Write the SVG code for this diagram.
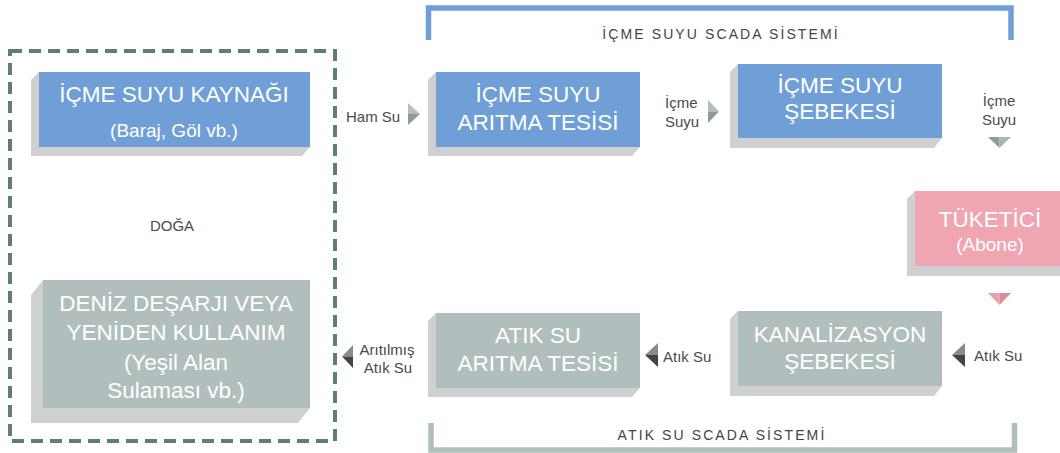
<svg xmlns="http://www.w3.org/2000/svg" width="1060" height="453" viewBox="0 0 1060 453">
<style>
.shadow{fill:#cfd0d2}
.blue{fill:#6f9fd6}
.gray{fill:#b0bfbd}
.pink{fill:#efa6b2}
.t{font-family:"Liberation Sans",Arial,sans-serif;fill:#fff;text-anchor:middle;font-size:22.5px}
.s{font-family:"Liberation Sans",Arial,sans-serif;fill:#fff;text-anchor:middle;font-size:19px}
.lbl{font-family:"Liberation Sans",Arial,sans-serif;fill:#4a4a4a;font-size:15px}
.sc{font-family:"Liberation Sans",Arial,sans-serif;fill:#444;font-size:14px;letter-spacing:2.1px;text-anchor:middle}
</style>
<rect width="1060" height="453" fill="#fff"/>
<g id="doga">
<rect x="10" y="51" width="325" height="390" fill="none" stroke="#5f7d7d" stroke-width="4" stroke-dasharray="12 7"/>
<text class="lbl" x="172" y="231" text-anchor="middle" font-size="14">DOĞA</text>
</g>
<g id="icme-scada">
<path d="M428.5,40 V8 H1011 V40" fill="none" stroke="#6f9fd6" stroke-width="5.5"/>
<text class="sc" x="721" y="39">İÇME SUYU SCADA SİSTEMİ</text>
</g>
<g id="atik-scada">
<path d="M431,423 V450 H1014.5 V423" fill="none" stroke="#b0bfbd" stroke-width="5.5"/>
<text class="sc" x="722" y="440">ATIK SU SCADA SİSTEMİ</text>
</g>
<g id="kaynak">
<polygon class="shadow" points="39,72 31,80 31,156 302,156 310,147"/>
<rect class="blue" x="39" y="72" width="271" height="75"/>
<text class="t" x="174" y="102" font-size="23">İÇME SUYU KAYNAĞI</text>
<text class="s" x="174" y="137">(Baraj, Göl vb.)</text>
</g>
<g id="icme-aritma">
<polygon class="shadow" points="436,72 428,80 428,156 632,156 640,147"/>
<rect class="blue" x="436" y="72" width="204" height="75"/>
<text class="t" x="538" y="102">İÇME SUYU</text>
<text class="t" x="538" y="130">ARITMA TESİSİ</text>
</g>
<g id="sebeke">
<polygon class="shadow" points="738,64 730,72 730,148 934,148 942,138"/>
<rect class="blue" x="738" y="64" width="204" height="74"/>
<text class="t" x="840" y="93">İÇME SUYU</text>
<text class="t" x="840" y="119">ŞEBEKESİ</text>
</g>
<g id="tuketici">
<polygon class="shadow" points="915,191 907,199 907,276 1060,276 1060,191"/>
<rect class="pink" x="915" y="191" width="145" height="75"/>
<text class="t" x="990" y="227" font-size="23">TÜKETİCİ</text>
<text class="s" x="990" y="251" font-size="20">(Abone)</text>
</g>
<g id="kanalizasyon">
<polygon class="shadow" points="738,311 730,319 730,396 934,396 942,386"/>
<rect class="gray" x="738" y="311" width="204" height="75"/>
<text class="t" x="840" y="342">KANALİZASYON</text>
<text class="t" x="840" y="369">ŞEBEKESİ</text>
</g>
<g id="atik-aritma">
<polygon class="shadow" points="436,313 428,321 428,397 632,397 640,388"/>
<rect class="gray" x="436" y="313" width="204" height="75"/>
<text class="t" x="538" y="343">ATIK SU</text>
<text class="t" x="538" y="371">ARITMA TESİSİ</text>
</g>
<g id="deniz">
<polygon class="shadow" points="43,280 31,295 31,423 298,423 310,408"/>
<rect class="gray" x="43" y="280" width="267" height="128"/>
<text class="t" x="176" y="311">DENİZ DEŞARJI VEYA</text>
<text class="t" x="176" y="340">YENİDEN KULLANIM</text>
<text class="t" x="176" y="370" font-size="23.5">(Yeşil Alan</text>
<text class="t" x="176" y="398" font-size="23.5">Sulaması vb.)</text>
</g>
<g id="connectors">
<text class="lbl" x="346" y="122">Ham Su</text>
<polygon points="408,103 420,114 408,114" fill="#b4c0be"/>
<polygon points="408,114 420,114 408,125" fill="#8d9b99"/>
<text class="lbl" x="665" y="108">İçme</text>
<text class="lbl" x="665" y="127">Suyu</text>
<polygon points="708,100 719,111.5 708,111.5" fill="#b4c0be"/>
<polygon points="708,111.5 719,111.5 708,123" fill="#8d9b99"/>
<text class="lbl" x="999" y="106" text-anchor="middle">İçme</text>
<text class="lbl" x="999" y="125" text-anchor="middle">Suyu</text>
<polygon points="988,137 999.5,137 999.5,148" fill="#8d9b99"/>
<polygon points="999.5,137 1011,137 999.5,148" fill="#a9b5b3"/>
<polygon points="988,293 999.5,293 999.5,305" fill="#e8a0ae"/>
<polygon points="999.5,293 1011,293 999.5,305" fill="#d88d9b"/>
<polygon points="965,343 952,355 965,355" fill="#8a8a8a"/>
<polygon points="965,355 952,355 965,367" fill="#444"/>
<text class="lbl" x="974" y="361">Atık Su</text>
<polygon points="658,343 645,355 658,355" fill="#8a8a8a"/>
<polygon points="658,355 645,355 658,367" fill="#444"/>
<text class="lbl" x="663" y="362">Atık Su</text>
<polygon points="353,345 342,356.5 353,356.5" fill="#8a8a8a"/>
<polygon points="353,356.5 342,356.5 353,368" fill="#444"/>
<text class="lbl" x="387" y="355" text-anchor="middle">Arıtılmış</text>
<text class="lbl" x="388" y="373" text-anchor="middle">Atık Su</text>
</g>
</svg>
